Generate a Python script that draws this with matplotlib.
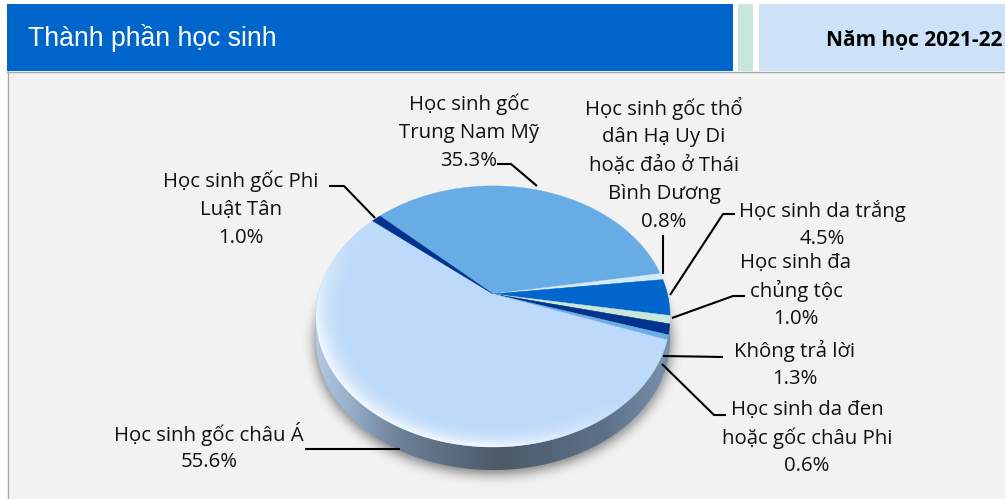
import numpy as np
import matplotlib
matplotlib.use("Agg")
import matplotlib.pyplot as plt
from matplotlib.patches import Polygon, Rectangle

plt.rcParams['font.family'] = ['Open Sans', 'DejaVu Sans']

# clockwise from the top of the pie
names = ["Học sinh gốc\nTrung Nam Mỹ",
         "Học sinh gốc thổ\ndân Hạ Uy Di\nhoặc đảo ở Thái\nBình Dương",
         "Học sinh da trắng",
         "Học sinh đa\nchủng tộc",
         "Không trả lời",
         "Học sinh da đen\nhoặc gốc châu Phi",
         "Học sinh gốc châu Á",
         "Học sinh gốc Phi\nLuật Tân"]
shares = [35.3, 0.8, 4.5, 1.0, 1.3, 0.6, 55.6, 1.0]
colors = ["#68ace6", "#d3eaf7", "#0066cc", "#c8e6da",
          "#00338f", "#6baee8", "#bddafa", "#00338f"]

# label centre x, first line y
label_pos = [(469, 104.5), (664, 108.5), (822, 210.5), (796, 262.5),
             (795, 350.5), (807, 409.5), (209, 433.5), (241, 181.5)]
leaders = [[(537, 186), (511, 164), (497, 164)],
           [(663, 274), (663, 235)],
           [(670, 295), (723, 214), (735, 214)],
           [(672, 318), (733, 296), (745, 296)],
           [(663, 356), (723, 357)],
           [(662, 364), (714, 415), (726, 415)],
           [(400, 449), (305, 449)],
           [(375, 218), (344, 186), (329, 186)]]

start_angle = 136.5
apex = (493, 294)
a, b, k = 174.4, 126.7, 0.172
depth = 23


def project(theta, r=1.0):
    # tilted disc: circle seen in perspective, so the apex sits above the ellipse centre
    x = r * np.cos(theta)
    y = r * np.sin(theta)
    w = 1 + k * y
    return apex[0] + a * x / w, apex[1] - b * y / w


fig = plt.figure(figsize=(10.05, 4.99), dpi=100)
ax = fig.add_axes([0, 0, 1, 1])
ax.set_xlim(0, 1005)
ax.set_ylim(499, 0)
ax.axis('off')

# header and panel
ax.add_patch(Rectangle((7, 72), 998, 427, fc="#f2f2f2", ec="none", zorder=0))
ax.plot([7.5, 7.5], [71, 499], color="#a6a6a6", lw=0.8, zorder=1)
ax.plot([7, 1005], [71.5, 71.5], color="#a6a6a6", lw=1.0, zorder=1)
ax.add_patch(Rectangle((7, 4), 726, 67, fc="#0066cc", ec="none", zorder=1))
ax.add_patch(Rectangle((738, 4), 15, 67, fc="#c8e6da", ec="none", zorder=1))
ax.add_patch(Rectangle((759, 4), 246, 67, fc="#cde2f7", ec="none", zorder=1))
ax.text(28, 38, "Thành phần học sinh", color="white", fontsize=19.1,
        family="Liberation Sans", va="center", ha="left", zorder=2)
ax.text(1002, 40, "Năm học 2021-22", color="black", fontsize=15, weight="bold",
        va="center", ha="right", zorder=2)

# soft shadow under the disc
gx, gy = np.meshgrid(np.arange(1005) + 0.5, np.arange(499) + 0.5)
cx, cy, rx, ry = 493, 316.5, 177, 130.5
mask = (((gx - cx) / (rx + 1)) ** 2 + ((gy - cy - depth - 3) / (ry + 1)) ** 2 <= 1).astype(float)
kernel = np.exp(-np.arange(-18, 19) ** 2 / (2 * 6.0 ** 2))
kernel /= kernel.sum()
blur = np.apply_along_axis(lambda v: np.convolve(v, kernel, mode='same'), 0, mask)
blur = np.apply_along_axis(lambda v: np.convolve(v, kernel, mode='same'), 1, blur)
shadow = np.zeros((499, 1005, 4))
shadow[..., 3] = blur * 0.5
ax.imshow(shadow, extent=(0, 1005, 499, 0), aspect='auto', zorder=2, interpolation='bilinear')

# side band of the disc
t = np.linspace(0, 2 * np.pi, 721)
ex, ey = project(t)
low = np.linspace(np.pi * 0.98, np.pi * 2.02, 300)
lx, ly = project(low)
side_pts = np.vstack([np.c_[lx, ly], np.c_[lx[::-1], ly[::-1] + depth]])
side = Polygon(side_pts, fc="none", ec="none", zorder=3)
ax.add_patch(side)
stops_x = [316, 340, 400, 500, 600, 672]
stops = np.array([[0.70, 0.79, 0.88], [0.62, 0.72, 0.83], [0.42, 0.50, 0.59],
                  [0.30, 0.35, 0.41], [0.36, 0.44, 0.53], [0.47, 0.57, 0.68]])
xs = np.arange(316, 673)
band = np.stack([np.interp(xs, stops_x, stops[:, i]) for i in range(3)], axis=-1)[None, :, :]
im = ax.imshow(band, extent=(316, 673, 499, 0), aspect='auto', zorder=3)
im.set_clip_path(side)

# slices
edges = start_angle - np.cumsum([0] + shares) * 360 / sum(shares)
for i, share in enumerate(shares):
    th = np.radians(np.linspace(edges[i], edges[i + 1], max(int(share * 6), 4)))
    px, py = project(th)
    pts = np.vstack([[apex], np.c_[px, py]])
    ax.add_patch(Polygon(pts, fc=colors[i], ec=colors[i], lw=0.3, zorder=4))

# light rim on the lower left of the top only, fading out towards the sides
rr = np.sqrt(((gx - cx) / rx) ** 2 + ((gy - cy) / ry) ** 2)
ang = np.arctan2(-(gy - cy) / ry, (gx - cx) / rx)
lowleft = np.clip(np.cos(ang - np.radians(230)) * 1.3, 0, 1)
rim = np.clip((rr - 0.80) / 0.20, 0, 1) ** 2.5 * lowleft
glow = np.ones((499, 1005, 4))
glow[..., 3] = np.clip(rim * 0.85, 0, 1)
top = Polygon(np.c_[ex, ey], fc="none", ec="none", zorder=5)
ax.add_patch(top)
im2 = ax.imshow(glow, extent=(0, 1005, 499, 0), aspect='auto', zorder=5, interpolation='bilinear')
im2.set_clip_path(top)

ax.set_xlim(0, 1005)
ax.set_ylim(499, 0)

# labels and leader lines
for name, share, (lx0, ly0), line in zip(names, shares, label_pos, leaders):
    rows = name.split("\n") + [f"{share}%"]
    for j, row in enumerate(rows):
        ax.text(lx0, ly0 + j * 28.4, row, fontsize=14.7, color="#111111",
                ha="center", va="center", zorder=7)
    ax.plot(*zip(*line), color="black", lw=1.5, zorder=6, solid_capstyle='butt')

fig.savefig("out.png", dpi=100)
